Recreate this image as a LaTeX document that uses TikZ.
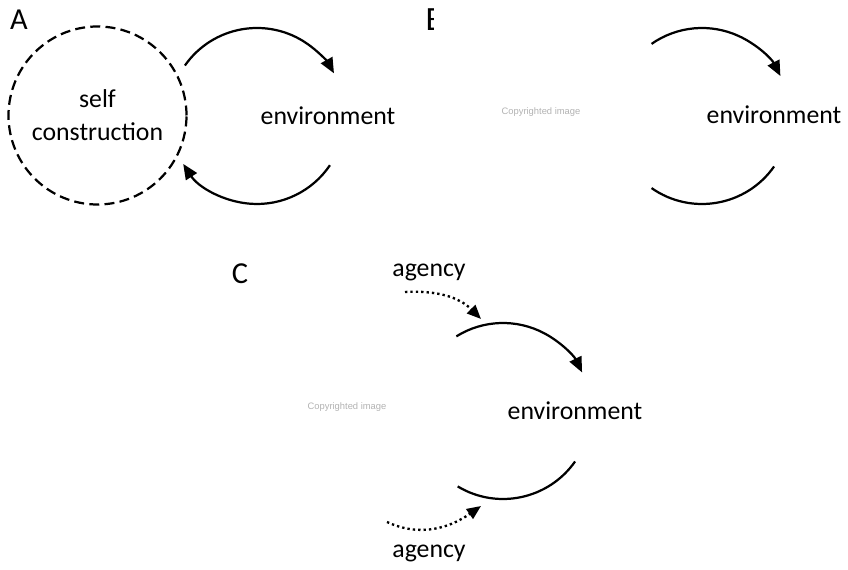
\documentclass[tikz,border=0pt]{standalone}
\usepackage{fontspec}
\setmainfont{Carlito}
\setsansfont{Liberation Sans}
\usetikzlibrary{arrows.meta,positioning}

\begin{document}
\begin{tikzpicture}[x=0.3mm,y=0.3mm,
  txt/.style={font=\fontsize{22}{28}\selectfont, inner sep=0pt},
  panel/.style={font=\fontsize{26}{28}\selectfont, inner sep=0pt},
  cright/.style={font=\sffamily\fontsize{8}{9}\selectfont, text=black!30, inner sep=0pt},
  feedback/.style={line width=1.9pt},
  headed/.style={-{Triangle[length=13pt,width=11pt]}},
  agent/.style={line width=2pt, dash pattern=on 2pt off 2.6pt, -{Triangle[length=12pt,width=10pt]}},
  selfbox/.style={txt, circle, draw, line width=1.9pt, dash pattern=on 8.5pt off 4.5pt,
    minimum size=53.4mm, align=center}]
\useasboundingbox (0,0) rectangle (848,570);

% A
\node[panel] (labA) at (19,550) {A};
\node[selfbox] (self) at (97.5,454.5) {self\\construction};
\coordinate (envA) at (257,454);
\node[txt] (envtxtA) at (328,454) {environment};
\draw[feedback, headed] ([shift={(145:88)}]envA) arc[start angle=145, end angle=29, radius=88];
\draw[feedback, headed] ([shift={(-34:88)}]envA) arc[start angle=-34, end angle=-147, radius=88];

% B
\begin{scope}
\clip (420,530) rectangle (433,566);
\node[panel, font=\fontsize{29}{30}\selectfont, anchor=west] (labB) at (425.5,550) {B};
\end{scope}
\node[cright] (copyB) at (541,458) {Copyrighted image};
\coordinate (envB) at (702,454);
\node[txt] (envtxtB) at (774,455) {environment};
\draw[feedback, headed] ([shift={(125:88)}]envB) arc[start angle=125, end angle=27, radius=88];
\draw[feedback] ([shift={(-35:88)}]envB) arc[start angle=-35, end angle=-125, radius=88];

% C
\node[panel] (labC) at (240,296) {C};
\node[cright] (copyC) at (347,163) {Copyrighted image};
\coordinate (envC) at (503,159);
\node[txt] (envtxtC) at (575,159) {environment};
\draw[feedback, headed] ([shift={(122:88)}]envC) arc[start angle=122, end angle=26, radius=88];
\draw[feedback] ([shift={(-35:88)}]envC) arc[start angle=-35, end angle=-121, radius=88];

\node[txt] (agtop) at (429,298) {agency};
\node[txt] (agbot) at (429,17) {agency};
\coordinate (agtopS) at (405,278);
\coordinate (agtopE) at (481,251);
\coordinate (agbotS) at (387,48);
\coordinate (agbotE) at (481,64);
\draw[agent] (agtopS) to[out=3, in=135] (agtopE);
\draw[agent] (agbotS) to[out=-25, in=-145] (agbotE);
\end{tikzpicture}
\end{document}
